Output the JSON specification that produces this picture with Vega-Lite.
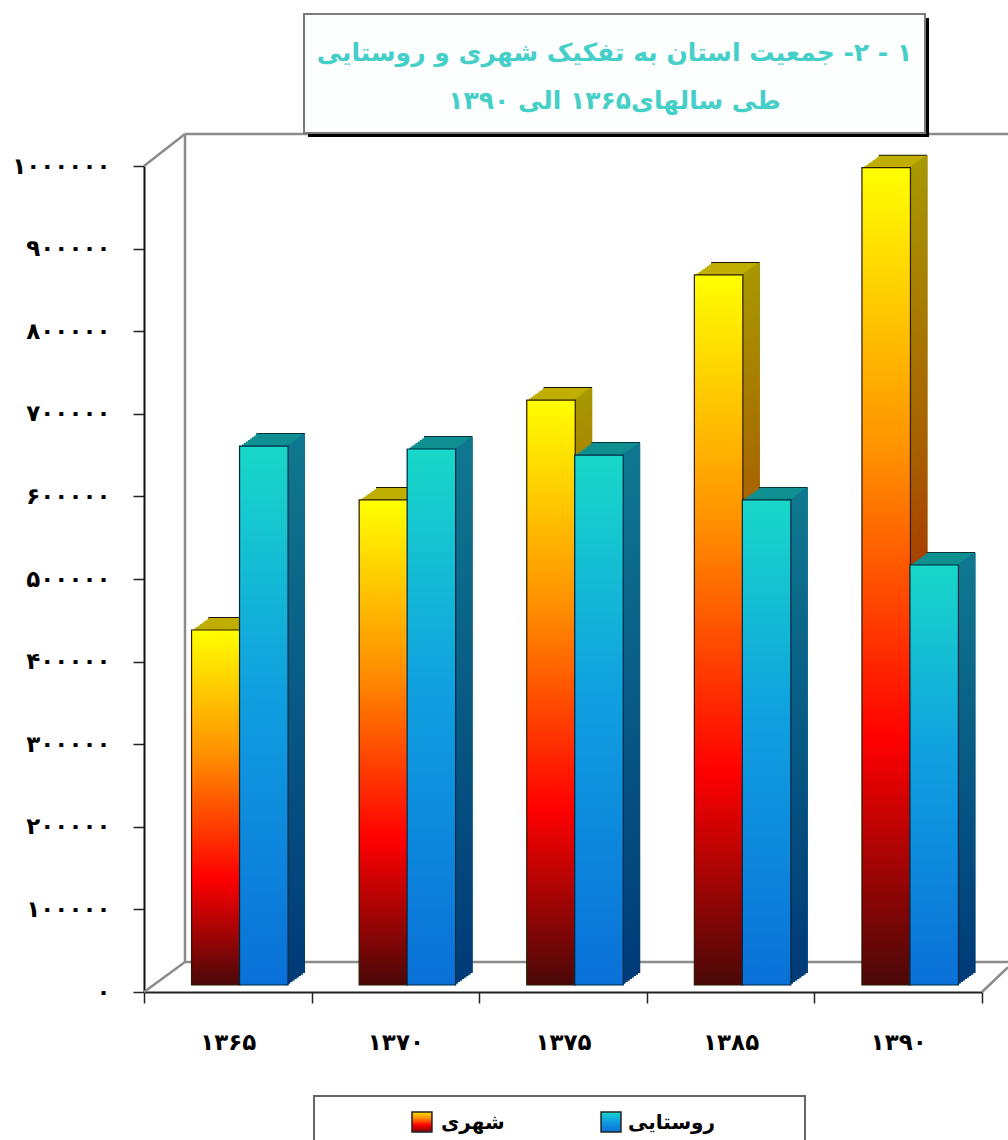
{
"$schema":"https://vega.github.io/schema/vega-lite/v6.json",
"width":838,"height":826,
"autosize":"none",
"padding":{"left":144,"top":166,"right":26,"bottom":148},
"background":"white",
"config":{"view":{"stroke":null}},
"resolve":{"scale":{"x":"independent"},"axis":{"x":"independent"}},
"layer":[
{"data":{"values":[
{"wall":"left","pos":0.2446,"val":36320},{"wall":"left","pos":0.2446,"val":1038741},
{"wall":"top","pos":0.2446,"val":1038741},{"wall":"top","pos":5.155,"val":1038741},
{"wall":"floor","pos":0.2446,"val":36320},{"wall":"floor","pos":5.155,"val":36320},
{"wall":"diagTop","pos":0,"val":1000000},{"wall":"diagTop","pos":0.2446,"val":1038741},
{"wall":"diagLeft","pos":0,"val":0},{"wall":"diagLeft","pos":0.2446,"val":36320},
{"wall":"diagRight","pos":5,"val":0},{"wall":"diagRight","pos":5.155,"val":30000}
]},
"mark":{"type":"line","color":"#8c8c8c","strokeWidth":2.5},
"encoding":{"x":{"field":"pos","type":"quantitative","scale":{"domain":[0,5],"nice":false,"zero":false},"axis":null},
"y":{"field":"val","type":"quantitative","title":null,"scale":{"domain":[0,1000000],"nice":false}},
"detail":{"field":"wall"}}},
{"data":{"values":[
{"year":"۱۳۶۵","group":"شهری","population":429800},{"year":"۱۳۶۵","group":"روستایی","population":652500},
{"year":"۱۳۷۰","group":"شهری","population":587200},{"year":"۱۳۷۰","group":"روستایی","population":648900},
{"year":"۱۳۷۵","group":"شهری","population":708200},{"year":"۱۳۷۵","group":"روستایی","population":641600},
{"year":"۱۳۸۵","group":"شهری","population":859600},{"year":"۱۳۸۵","group":"روستایی","population":587200},
{"year":"۱۳۹۰","group":"شهری","population":989500},{"year":"۱۳۹۰","group":"روستایی","population":508500}
]},
"encoding":{
"x":{"field":"year","type":"nominal","sort":null,"title":null,"scale":{"paddingInner":0,"paddingOuter":0},
"axis":{"labelAngle":0,"tickBand":"extent","tickSize":11,"tickColor":"#222","domainColor":"#222","domainWidth":2,"tickWidth":1.5,"labelPadding":28,"labelFont":"DejaVu Sans","labelFontWeight":"bold","labelFontSize":23,"labelColor":"#000","grid":false}},
"y":{"field":"population","type":"quantitative","title":null,"scale":{"domain":[0,1000000],"nice":false},
"axis":{"values":[0,100000,200000,300000,400000,500000,600000,700000,800000,900000,1000000],"format":"d","grid":false,"tickSize":11,"tickColor":"#222","tickWidth":1.5,"domainColor":"#111","domainWidth":2,"labelPadding":23,"labelFont":"DejaVu Sans","labelFontWeight":"bold","labelFontSize":23,"labelColor":"#000",
"labelExpr":"replace(replace(replace(replace(replace(replace(replace(replace(replace(replace(datum.label,regexp('0','g'),'۰'),regexp('1','g'),'۱'),regexp('2','g'),'۲'),regexp('3','g'),'۳'),regexp('4','g'),'۴'),regexp('5','g'),'۵'),regexp('6','g'),'۶'),regexp('7','g'),'۷'),regexp('8','g'),'۸'),regexp('9','g'),'۹')"}}
},
"layer":[
{"transform":[{"filter":"datum.group==='شهری'"}],
"layer":[
{"mark":{"type":"bar","width":48.5,"fill":"#1a1500","xOffset":4.8,"x2Offset":4.8,"yOffset":-20,"y2Offset":-20}},
{"mark":{"type":"bar","width":48.5,"fill":"#bfae00","xOffset":4.8,"x2Offset":4.8,"yOffset":-19,"y2Offset":-19}},
{"mark":{"type":"bar","width":48.5,"fill":"#bfae00","xOffset":2.7,"x2Offset":2.7,"yOffset":-17.5,"y2Offset":-17.5}},
{"mark":{"type":"bar","width":48.5,"fill":"#bfae00","xOffset":0.6,"x2Offset":0.6,"yOffset":-16,"y2Offset":-16}},
{"mark":{"type":"bar","width":48.5,"fill":"#bfae00","xOffset":-1.5,"x2Offset":-1.5,"yOffset":-14.5,"y2Offset":-14.5}},
{"mark":{"type":"bar","width":48.5,"fill":"#bfae00","xOffset":-3.6,"x2Offset":-3.6,"yOffset":-13,"y2Offset":-13}},
{"mark":{"type":"bar","width":48.5,"fill":"#bfae00","xOffset":-5.7,"x2Offset":-5.7,"yOffset":-11.5,"y2Offset":-11.5}},
{"mark":{"type":"bar","width":48.5,"fill":"#bfae00","xOffset":-7.8,"x2Offset":-7.8,"yOffset":-10,"y2Offset":-10}},
{"mark":{"type":"bar","width":48.5,"fill":"#bfae00","xOffset":-9.9,"x2Offset":-9.9,"yOffset":-8.5,"y2Offset":-8.5}},
{"mark":{"type":"bar","width":2.8,"fill":{"gradient":"linear","x1":0,"y1":1,"x2":0,"y2":0,"stops":[{"offset":0,"color":"#3a0505"},{"offset":0.3,"color":"#a81000"},{"offset":0.65,"color":"#a86000"},{"offset":1,"color":"#a89800"}]},"xOffset":13.1,"x2Offset":13.1,"yOffset":-8.5,"y2Offset":-8.5}},
{"mark":{"type":"bar","width":2.8,"fill":{"gradient":"linear","x1":0,"y1":1,"x2":0,"y2":0,"stops":[{"offset":0,"color":"#3a0505"},{"offset":0.3,"color":"#a81000"},{"offset":0.65,"color":"#a86000"},{"offset":1,"color":"#a89800"}]},"xOffset":15.2,"x2Offset":15.2,"yOffset":-10,"y2Offset":-10}},
{"mark":{"type":"bar","width":2.8,"fill":{"gradient":"linear","x1":0,"y1":1,"x2":0,"y2":0,"stops":[{"offset":0,"color":"#3a0505"},{"offset":0.3,"color":"#a81000"},{"offset":0.65,"color":"#a86000"},{"offset":1,"color":"#a89800"}]},"xOffset":17.3,"x2Offset":17.3,"yOffset":-11.5,"y2Offset":-11.5}},
{"mark":{"type":"bar","width":2.8,"fill":{"gradient":"linear","x1":0,"y1":1,"x2":0,"y2":0,"stops":[{"offset":0,"color":"#3a0505"},{"offset":0.3,"color":"#a81000"},{"offset":0.65,"color":"#a86000"},{"offset":1,"color":"#a89800"}]},"xOffset":19.4,"x2Offset":19.4,"yOffset":-13,"y2Offset":-13}},
{"mark":{"type":"bar","width":2.8,"fill":{"gradient":"linear","x1":0,"y1":1,"x2":0,"y2":0,"stops":[{"offset":0,"color":"#3a0505"},{"offset":0.3,"color":"#a81000"},{"offset":0.65,"color":"#a86000"},{"offset":1,"color":"#a89800"}]},"xOffset":21.5,"x2Offset":21.5,"yOffset":-14.5,"y2Offset":-14.5}},
{"mark":{"type":"bar","width":2.8,"fill":{"gradient":"linear","x1":0,"y1":1,"x2":0,"y2":0,"stops":[{"offset":0,"color":"#3a0505"},{"offset":0.3,"color":"#a81000"},{"offset":0.65,"color":"#a86000"},{"offset":1,"color":"#a89800"}]},"xOffset":23.6,"x2Offset":23.6,"yOffset":-16,"y2Offset":-16}},
{"mark":{"type":"bar","width":2.8,"fill":{"gradient":"linear","x1":0,"y1":1,"x2":0,"y2":0,"stops":[{"offset":0,"color":"#3a0505"},{"offset":0.3,"color":"#a81000"},{"offset":0.65,"color":"#a86000"},{"offset":1,"color":"#a89800"}]},"xOffset":25.7,"x2Offset":25.7,"yOffset":-17.5,"y2Offset":-17.5}},
{"mark":{"type":"bar","width":2.8,"fill":{"gradient":"linear","x1":0,"y1":1,"x2":0,"y2":0,"stops":[{"offset":0,"color":"#3a0505"},{"offset":0.3,"color":"#a81000"},{"offset":0.65,"color":"#a86000"},{"offset":1,"color":"#a89800"}]},"xOffset":27.8,"x2Offset":27.8,"yOffset":-19,"y2Offset":-19}},
{"mark":{"type":"bar","width":48.5,"xOffset":-12,"x2Offset":-12,"yOffset":-7,"y2Offset":-7},
"encoding":{"color":{"field":"group","type":"nominal","scale":{"domain":["شهری","روستایی"],"range":["#ff9000","#10a0e0"]},"legend":{"title":null,"orient":"none","legendX":268,"legendY":946,"direction":"horizontal","columns":2,"padding":0,"columnPadding":94,"symbolType":"square","symbolSize":360,"symbolOpacity":0,"labelFont":"DejaVu Sans","labelFontWeight":"bold","labelFontSize":20,"labelColor":"#000","labelOffset":8,"zindex":2}}}},
{"mark":{"type":"bar","width":48.5,"stroke":"#2a1a00","strokeWidth":1.2,"fill":{"gradient":"linear","x1":0,"y1":1,"x2":0,"y2":0,"stops":[{"offset":0,"color":"#4a0808"},{"offset":0.3,"color":"#ff0000"},{"offset":0.65,"color":"#ff9000"},{"offset":1,"color":"#ffff00"}]},"xOffset":-12,"x2Offset":-12,"yOffset":-7,"y2Offset":-7}}
]},
{"transform":[{"filter":"datum.group==='روستایی'"}],
"layer":[
{"mark":{"type":"bar","width":48.5,"fill":"#06343a","xOffset":52.8,"x2Offset":52.8,"yOffset":-20,"y2Offset":-20}},
{"mark":{"type":"bar","width":48.5,"fill":"#0f8f90","xOffset":52.8,"x2Offset":52.8,"yOffset":-19,"y2Offset":-19}},
{"mark":{"type":"bar","width":48.5,"fill":"#0f8f90","xOffset":50.7,"x2Offset":50.7,"yOffset":-17.5,"y2Offset":-17.5}},
{"mark":{"type":"bar","width":48.5,"fill":"#0f8f90","xOffset":48.6,"x2Offset":48.6,"yOffset":-16,"y2Offset":-16}},
{"mark":{"type":"bar","width":48.5,"fill":"#0f8f90","xOffset":46.5,"x2Offset":46.5,"yOffset":-14.5,"y2Offset":-14.5}},
{"mark":{"type":"bar","width":48.5,"fill":"#0f8f90","xOffset":44.4,"x2Offset":44.4,"yOffset":-13,"y2Offset":-13}},
{"mark":{"type":"bar","width":48.5,"fill":"#0f8f90","xOffset":42.3,"x2Offset":42.3,"yOffset":-11.5,"y2Offset":-11.5}},
{"mark":{"type":"bar","width":48.5,"fill":"#0f8f90","xOffset":40.2,"x2Offset":40.2,"yOffset":-10,"y2Offset":-10}},
{"mark":{"type":"bar","width":48.5,"fill":"#0f8f90","xOffset":38.1,"x2Offset":38.1,"yOffset":-8.5,"y2Offset":-8.5}},
{"mark":{"type":"bar","width":2.8,"fill":{"gradient":"linear","x1":0,"y1":1,"x2":0,"y2":0,"stops":[{"offset":0,"color":"#003a78"},{"offset":1,"color":"#0f7890"}]},"xOffset":61.1,"x2Offset":61.1,"yOffset":-8.5,"y2Offset":-8.5}},
{"mark":{"type":"bar","width":2.8,"fill":{"gradient":"linear","x1":0,"y1":1,"x2":0,"y2":0,"stops":[{"offset":0,"color":"#003a78"},{"offset":1,"color":"#0f7890"}]},"xOffset":63.2,"x2Offset":63.2,"yOffset":-10,"y2Offset":-10}},
{"mark":{"type":"bar","width":2.8,"fill":{"gradient":"linear","x1":0,"y1":1,"x2":0,"y2":0,"stops":[{"offset":0,"color":"#003a78"},{"offset":1,"color":"#0f7890"}]},"xOffset":65.3,"x2Offset":65.3,"yOffset":-11.5,"y2Offset":-11.5}},
{"mark":{"type":"bar","width":2.8,"fill":{"gradient":"linear","x1":0,"y1":1,"x2":0,"y2":0,"stops":[{"offset":0,"color":"#003a78"},{"offset":1,"color":"#0f7890"}]},"xOffset":67.4,"x2Offset":67.4,"yOffset":-13,"y2Offset":-13}},
{"mark":{"type":"bar","width":2.8,"fill":{"gradient":"linear","x1":0,"y1":1,"x2":0,"y2":0,"stops":[{"offset":0,"color":"#003a78"},{"offset":1,"color":"#0f7890"}]},"xOffset":69.5,"x2Offset":69.5,"yOffset":-14.5,"y2Offset":-14.5}},
{"mark":{"type":"bar","width":2.8,"fill":{"gradient":"linear","x1":0,"y1":1,"x2":0,"y2":0,"stops":[{"offset":0,"color":"#003a78"},{"offset":1,"color":"#0f7890"}]},"xOffset":71.6,"x2Offset":71.6,"yOffset":-16,"y2Offset":-16}},
{"mark":{"type":"bar","width":2.8,"fill":{"gradient":"linear","x1":0,"y1":1,"x2":0,"y2":0,"stops":[{"offset":0,"color":"#003a78"},{"offset":1,"color":"#0f7890"}]},"xOffset":73.7,"x2Offset":73.7,"yOffset":-17.5,"y2Offset":-17.5}},
{"mark":{"type":"bar","width":2.8,"fill":{"gradient":"linear","x1":0,"y1":1,"x2":0,"y2":0,"stops":[{"offset":0,"color":"#003a78"},{"offset":1,"color":"#0f7890"}]},"xOffset":75.8,"x2Offset":75.8,"yOffset":-19,"y2Offset":-19}},
{"mark":{"type":"bar","width":48.5,"xOffset":36,"x2Offset":36,"yOffset":-7,"y2Offset":-7},
"encoding":{"color":{"field":"group","type":"nominal","scale":{"domain":["شهری","روستایی"],"range":["#ff9000","#10a0e0"]}}}},
{"mark":{"type":"bar","width":48.5,"stroke":"#00263f","strokeWidth":1.2,"fill":{"gradient":"linear","x1":0,"y1":1,"x2":0,"y2":0,"stops":[{"offset":0,"color":"#0a70d8"},{"offset":0.55,"color":"#10a0e0"},{"offset":1,"color":"#18d8c8"}]},"xOffset":36,"x2Offset":36,"yOffset":-7,"y2Offset":-7}}
]}
]},
{"data":{"values":[{"box":"titleShadow"}]},
"mark":{"type":"rect","color":"#000","xOffset":4,"x2Offset":4,"yOffset":4,"y2Offset":4},
"encoding":{"x":{"datum":0.9547,"type":"quantitative","scale":{"domain":[0,5],"nice":false,"zero":false},"axis":null},"x2":{"datum":4.66},"y":{"datum":1184019,"type":"quantitative","title":null},"y2":{"datum":1039952}}},
{"data":{"values":[{"box":"titleBox"}]},
"mark":{"type":"rect","fill":"#fdfefe","stroke":"#7a7a7a","strokeWidth":2},
"encoding":{"x":{"datum":0.9547,"type":"quantitative","scale":{"domain":[0,5],"nice":false,"zero":false},"axis":null},"x2":{"datum":4.66},"y":{"datum":1184019,"type":"quantitative","title":null},"y2":{"datum":1039952}}},
{"data":{"values":[
{"line":"\u200F۱ - ۲- جمعیت استان به تفکیک شهری و روستایی\u200F","pos":2.807,"val":1137000},
{"line":"\u200Fطی سالهای۱۳۶۵ الی ۱۳۹۰\u200F","pos":2.807,"val":1079000}
]},
"mark":{"type":"text","align":"center","baseline":"middle","font":"DejaVu Sans","fontSize":25,"fontWeight":"bold","color":"#45cfc8"},
"encoding":{"x":{"field":"pos","type":"quantitative","scale":{"domain":[0,5],"nice":false,"zero":false},"axis":null},"y":{"field":"val","type":"quantitative","title":null},"text":{"field":"line"}}},
{"data":{"values":[{"box":"legendBox"}]},
"mark":{"type":"rect","fill":"#ffffff","stroke":"#666666","strokeWidth":2},
"encoding":{"x":{"datum":1.0143,"type":"quantitative","scale":{"domain":[0,5],"nice":false,"zero":false},"axis":null},"x2":{"datum":3.944},"y":{"datum":-125908,"type":"quantitative","title":null},"y2":{"datum":-203390}}},
{"data":{"values":[{"box":"swatchUrban"}]},
"mark":{"type":"rect","stroke":"#222","strokeWidth":1.5,"fill":{"gradient":"linear","x1":0,"y1":1,"x2":0,"y2":0,"stops":[{"offset":0,"color":"#7a0808"},{"offset":0.35,"color":"#ff0000"},{"offset":0.7,"color":"#ff9000"},{"offset":1,"color":"#ffe000"}]}},
"encoding":{"x":{"datum":1.599,"type":"quantitative","scale":{"domain":[0,5],"nice":false,"zero":false},"axis":null},"x2":{"datum":1.718},"y":{"datum":-145278,"type":"quantitative","title":null},"y2":{"datum":-169492}}},
{"data":{"values":[{"box":"swatchRural"}]},
"mark":{"type":"rect","stroke":"#222","strokeWidth":1.5,"fill":{"gradient":"linear","x1":0,"y1":1,"x2":0,"y2":0,"stops":[{"offset":0,"color":"#0a70d8"},{"offset":0.55,"color":"#10a0e0"},{"offset":1,"color":"#18d8c8"}]}},
"encoding":{"x":{"datum":2.727,"type":"quantitative","scale":{"domain":[0,5],"nice":false,"zero":false},"axis":null},"x2":{"datum":2.846},"y":{"datum":-145278,"type":"quantitative","title":null},"y2":{"datum":-169492}}}
]
}
